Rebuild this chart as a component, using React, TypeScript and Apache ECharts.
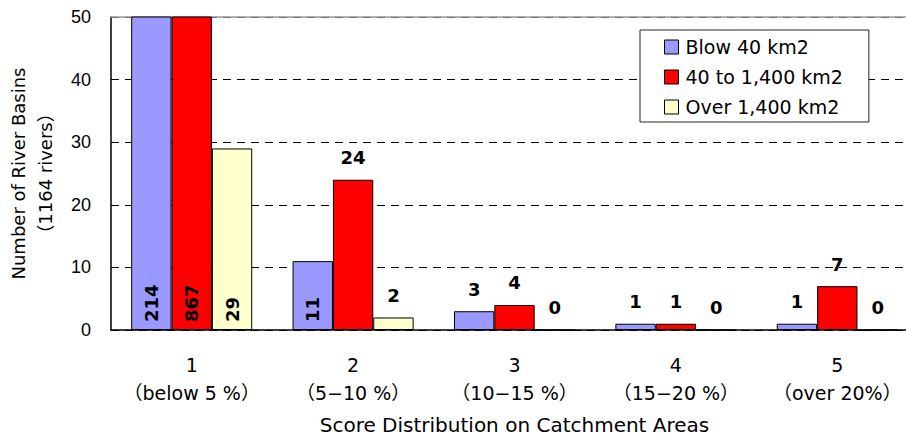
import React, { useEffect, useRef } from "react";
import * as echarts from "echarts";

const categories = ["1\n（below 5 %）", "2\n（5−10 %）", "3\n（10−15 %）", "4\n（15−20 %）", "5\n（over 20%）"];
const seriesNames = ["Blow 40 km2", "40 to 1,400 km2", "Over 1,400 km2"];
const blow40 = [214, 11, 3, 1, 1];
const mid40to1400 = [867, 24, 4, 1, 7];
const over1400 = [29, 2, 0, 0, 0];
const colors = ["#9999FF", "#FF0000", "#FFFFCC"];
// which data points get the rotated inside-bottom label
const insideLabels = [
  [true, true, false, false, false],
  [true, false, false, false, false],
  [true, false, false, false, false],
];
const yTicks = { min: 0, max: 50, interval: 10 };

const FONT = "'DejaVu Sans', 'Noto Sans CJK JP', sans-serif";

export default function App() {
  const ref = useRef<HTMLDivElement>(null);
  useEffect(() => {
    if (!ref.current) return;
    const chart = echarts.init(ref.current, null, { renderer: "svg" });
    const all = [blow40, mid40to1400, over1400];
    const series = all.map((vals, si) => ({
      name: seriesNames[si],
      type: "bar",
      barGap: "0%",
      barCategoryGap: "25%",
      itemStyle: { color: colors[si], borderColor: "#000", borderWidth: 1 },
      label: {
        show: true,
        position: "top",
        distance: 13,
        fontFamily: FONT,
        fontWeight: "bold",
        fontSize: 18,
        color: "#000",
      },
      data: vals.map((v, i) =>
        insideLabels[si][i]
          ? {
              value: v,
              label: {
                position: "insideBottom",
                rotate: 90,
                align: "left",
                verticalAlign: "middle",
                distance: 8,
              },
            }
          : { value: v }
      ),
    }));
    chart.setOption({
      animation: false,
      backgroundColor: "#fff",
      grid: {
        left: 111,
        top: 17,
        bottom: 109,
        right: -12,
        containLabel: false,
        outerBoundsMode: "none",
      },
      legend: {
        orient: "vertical",
        left: 640,
        top: 30,
        padding: [7, 26, 5, 24],
        itemWidth: 14,
        itemHeight: 14,
        itemGap: 10,
        backgroundColor: "#fff",
        borderColor: "#222",
        borderWidth: 1,
        textStyle: { fontFamily: FONT, fontSize: 19, color: "#000", padding: [0, 0, 0, 2], lineHeight: 20 },
        data: seriesNames.map((n, i) => ({
          name: n,
          icon: "rect",
          itemStyle: { color: colors[i], borderColor: "#000", borderWidth: 1 },
        })),
      },
      xAxis: [
        {
          type: "category",
          data: categories,
          axisLine: { lineStyle: { color: "#000", width: 1.5 } },
          axisTick: { inside: true, length: 7, lineStyle: { color: "#555" } },
          axisLabel: {
            interval: 0,
            fontFamily: FONT,
            fontSize: 19,
            color: "#000",
            margin: 21,
            lineHeight: 28,
          },
          name: "Score Distribution on Catchment Areas",
          nameLocation: "middle",
          nameGap: 85,
          nameTextStyle: { fontFamily: FONT, fontSize: 20, color: "#000" },
        },
        {
          type: "category",
          position: "top",
          data: categories,
          axisLine: { show: true, lineStyle: { color: "#999", width: 1.5 } },
          axisTick: { show: false },
          axisLabel: { show: false },
        },
      ],
      yAxis: {
        type: "value",
        min: yTicks.min,
        max: yTicks.max,
        interval: yTicks.interval,
        axisLine: { show: true, lineStyle: { color: "#000", width: 1.5 } },
        axisTick: { show: false },
        axisLabel: {
          fontFamily: "'Liberation Sans', Arial, sans-serif",
          fontSize: 18,
          color: "#000",
          margin: 20,
        },
        splitLine: {
          show: true,
          lineStyle: { color: "#000", type: [8, 6], width: 1 },
        },
        name: "Number of River Basins\n（1164 rivers）",
        nameLocation: "middle",
        nameGap: 52,
        nameTextStyle: { fontFamily: FONT, fontSize: 18, color: "#000", lineHeight: 27 },
      },
      series,
    });
    return () => chart.dispose();
  }, []);
  return <div ref={ref} style={{ width: 906, height: 439, position: "absolute", left: 0, top: 0 }} />;
}
